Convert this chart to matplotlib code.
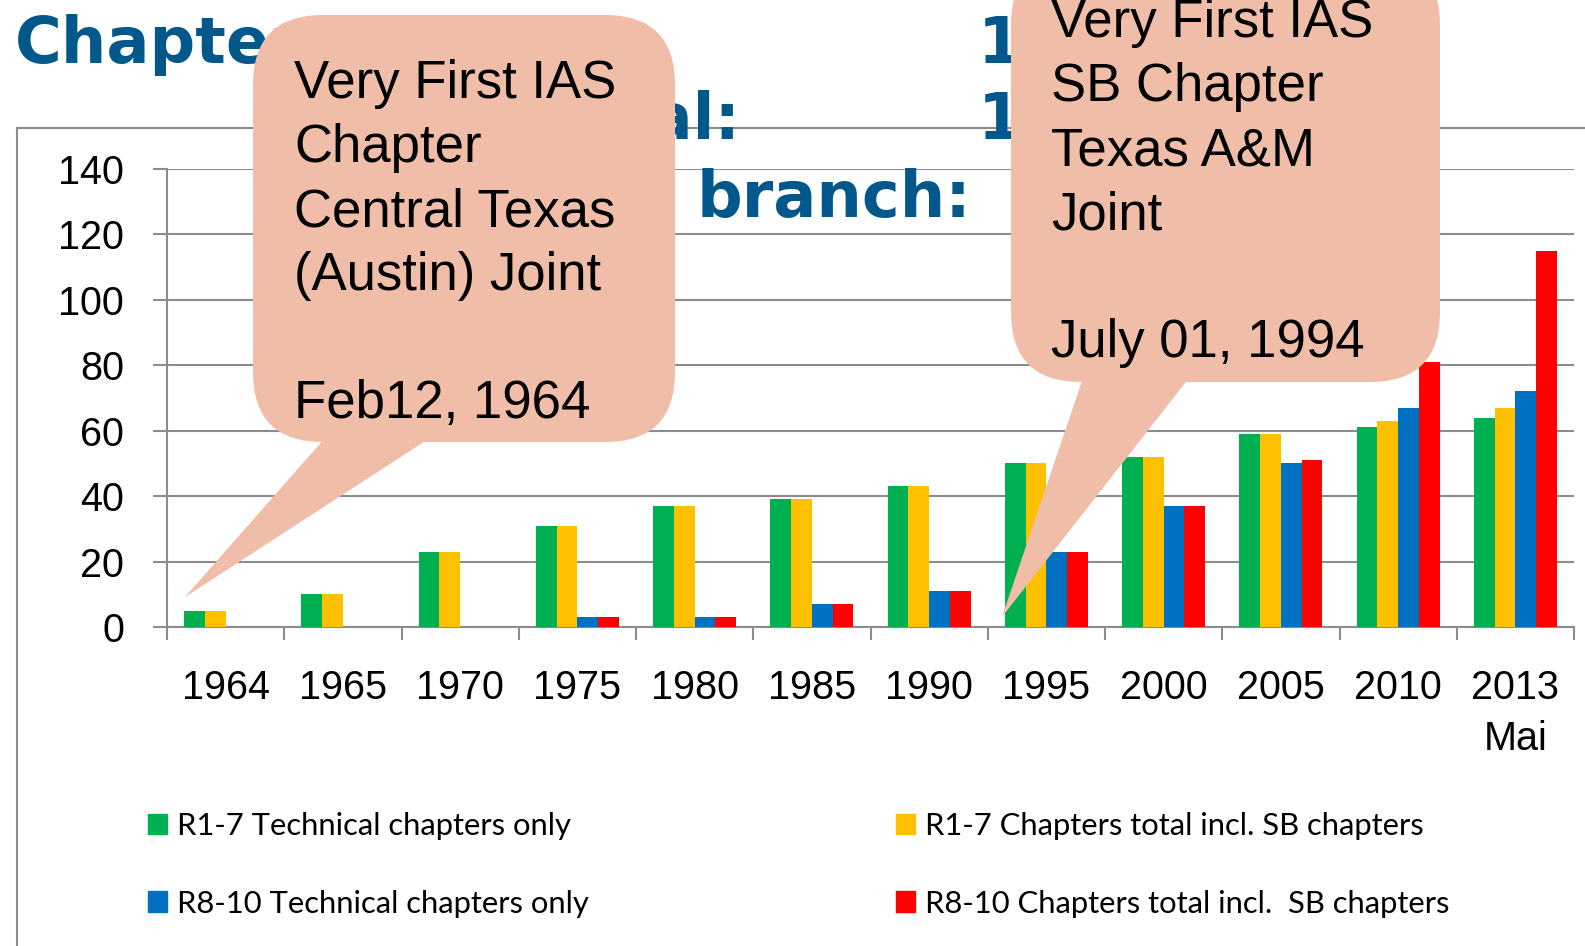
import numpy as np
import matplotlib
matplotlib.use("Agg")
import matplotlib.pyplot as plt
from matplotlib.patches import FancyBboxPatch, Polygon, Patch
from matplotlib.lines import Line2D

W, H = 1585, 946

# data
years = ["1964", "1965", "1970", "1975", "1980", "1985", "1990", "1995",
         "2000", "2005", "2010", "2013\nMai"]
r17_tech = [5, 10, 23, 31, 37, 39, 43, 50, 52, 59, 61, 64]
r17_total = [5, 10, 23, 31, 37, 39, 43, 50, 52, 59, 63, 67]
r810_tech = [0, 0, 0, 3, 3, 7, 11, 23, 37, 50, 67, 72]
r810_total = [0, 0, 0, 3, 3, 7, 11, 23, 37, 51, 81, 115]

series_names = ["R1-7 Technical chapters only",
                "R1-7 Chapters total incl. SB chapters",
                "R8-10 Technical chapters only",
                "R8-10 Chapters total incl.  SB chapters"]
colors = ["#00b050", "#ffc000", "#0070c0", "#ff0000"]

note1 = ["Very First IAS", "Chapter", "Central Texas", "(Austin) Joint", "", "Feb12, 1964"]
note2 = ["Very First IAS", "SB Chapter", "Texas A&M", "Joint", "", "July 01, 1994"]

grey = "#8c8c8c"
title_blue = "#03588b"
bubble = "#f0bea8"

fig = plt.figure(figsize=(W / 100, H / 100), dpi=100)
ax = fig.add_axes([167 / W, 1 - 627 / H, (1574 - 167) / W, (627 - 169) / H])

x = np.arange(len(years))
bw = 0.177
all_series = [r17_tech, r17_total, r810_tech, r810_total]
for i, (vals, c) in enumerate(zip(all_series, colors)):
    ax.bar(x + (i - 1.5) * bw, vals, bw, color=c, zorder=3)

ax.set_xlim(-0.5, len(years) - 0.5)
ax.set_ylim(0, 140)
ax.set_yticks(range(0, 141, 20))
ax.yaxis.grid(True, color=grey, lw=1.5, zorder=0)
ax.set_axisbelow(True)

ax.set_xticks(x)
ax.set_xticklabels(years, family="Liberation Sans", fontsize=28.5, linespacing=1.45)
ax.set_xticks(np.arange(-0.5, len(years)), minor=True)
ax.tick_params(axis="x", which="major", length=0, pad=30)
ax.tick_params(axis="x", which="minor", length=9, width=1.5, color=grey, direction="out")
ax.tick_params(axis="y", length=10, width=1.5, color=grey, pad=21)
for lab in ax.get_yticklabels():
    lab.set_family("Liberation Sans")
    lab.set_fontsize(28.5)
for s in ["top", "right"]:
    ax.spines[s].set_visible(False)
for s in ["left", "bottom"]:
    ax.spines[s].set_color(grey)
    ax.spines[s].set_linewidth(1.5)

# legend (2 x 2)
handles = [Patch(color=colors[0]), Patch(color=colors[2]),
           Patch(color=colors[1]), Patch(color=colors[3])]
labels = [series_names[0], series_names[2], series_names[1], series_names[3]]
fig.legend(handles, labels, loc="upper left", bbox_to_anchor=(148 / W, 1 - 812 / H),
           ncol=2, frameon=False, borderpad=0, borderaxespad=0,
           prop={"family": "Lato", "size": 22.3},
           handlelength=0.62, handleheight=0.65, handletextpad=0.32,
           columnspacing=9.9, labelspacing=1.6)

# overlay in pixel coords for frame, title and callouts
ov = fig.add_axes([0, 0, 1, 1], zorder=2)
ov.set_xlim(0, W)
ov.set_ylim(H, 0)
ov.axis("off")
ov.patch.set_alpha(0)

ov.add_line(Line2D([17, W], [128, 128], color=grey, lw=1.5, zorder=1))
ov.add_line(Line2D([17, 17], [128, H], color=grey, lw=1.5, zorder=1))

tkw = dict(color=title_blue, fontsize=46, fontweight="bold", family="DejaVu Sans",
           va="baseline", zorder=2)
ov.text(15, 63, "Chapters", ha="left", **tkw)
ov.text(741, 139, "Total:", ha="right", **tkw)
ov.text(697, 217, "branch:", ha="left", **tkw)
ov.text(978, 63, "1", ha="left", **tkw)
ov.text(978, 139, "1", ha="left", **tkw)


def callout(x0, y0, w, h, tail, lines, tx, ty):
    ov.add_patch(Polygon(tail, closed=True, fc=bubble, ec="none", zorder=3))
    ov.add_patch(FancyBboxPatch((x0, y0), w, h, boxstyle="round,pad=0,rounding_size=70",
                                fc=bubble, ec="none", zorder=3))
    for i, line in enumerate(lines):
        ov.text(tx, ty + 64 * i, line, fontsize=38, family="Liberation Sans",
                va="baseline", ha="left", color="black", zorder=4)


callout(253, 15, 422, 427, [(325, 438), (430, 438), (185, 597)], note1, 294, 98)
callout(1011, -45, 429, 427, [(1083, 378), (1189, 378), (1002, 617)], note2, 1051, 37)

fig.savefig("out.png", dpi=100)
